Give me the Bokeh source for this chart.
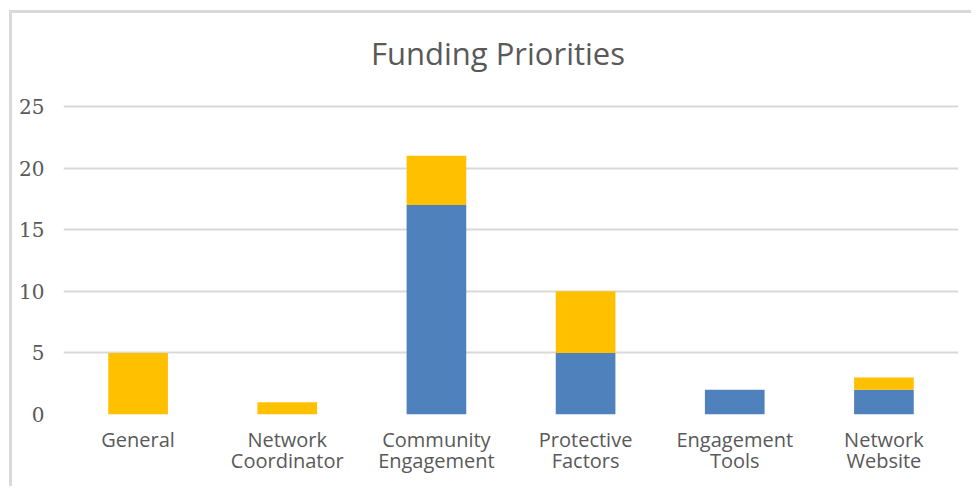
from bokeh.plotting import figure
from bokeh.models import ColumnDataSource, Range1d, FixedTicker, LinearAxis, Label
from bokeh.embed import file_html
from bokeh.resources import INLINE

title_text = "Funding Priorities"
categories = ["General", "Network Coordinator", "Community Engagement",
              "Protective Factors", "Engagement Tools", "Network Website"]
label_line1 = ["General", "Network", "Community", "Protective", "Engagement", "Network"]
label_line2 = ["", "Coordinator", "Engagement", "Factors", "Tools", "Website"]
y_ticks = [0, 5, 10, 15, 20, 25]
series_blue = [0, 0, 17, 5, 2, 2]
series_gold = [5, 1, 4, 5, 0, 1]
series_names = ["blue", "gold"]

xpos = list(range(len(categories)))
source = ColumnDataSource(dict(x=xpos, cat=categories, blue=series_blue, gold=series_gold))

# extra head-room above 25 inside the frame holds the title
p = figure(x_range=Range1d(-0.5, len(categories) - 0.5), y_range=Range1d(0, 31.17),
           width=962, height=476, output_backend="svg", toolbar_location=None,
           min_border_left=51, min_border_right=16, min_border_bottom=75, min_border_top=17)
p.styles = {"margin-left": "9px", "margin-top": "10px",
            "border-left": "3px solid #d9d9d9", "border-top": "3px solid #d9d9d9"}

p.vbar_stack(series_names, x="x", width=0.4, source=source,
             color=["#4F81BD", "#FFC000"], line_color=None)

title = Label(x=2.413, y=29.38, text=title_text,
              text_align="center", text_baseline="alphabetic",
              text_font="Open Sans", text_font_size="31px", text_color="#595959")
p.add_layout(title)

p.outline_line_color = None
p.xgrid.grid_line_color = None
p.ygrid.grid_line_color = "#d9d9d9"
p.ygrid.grid_line_width = 2
p.yaxis.ticker = FixedTicker(ticks=y_ticks)
p.yaxis.axis_line_color = None
p.yaxis.major_tick_line_color = None
p.yaxis.minor_tick_line_color = None
p.yaxis.major_tick_out = 0
p.yaxis.major_tick_in = 0
p.yaxis.major_label_text_font = "DejaVu Serif"
p.yaxis.major_label_text_font_size = "20px"
p.yaxis.major_label_text_color = "#595959"
p.yaxis.major_label_standoff = 19

ax1 = p.xaxis[0]
ax1.major_label_overrides = dict(zip(xpos, label_line1))
ax2 = LinearAxis()
ax2.major_label_overrides = dict(zip(xpos, label_line2))
p.add_layout(ax2, "below")
for ax in (ax1, ax2):
    ax.ticker = FixedTicker(ticks=xpos)
    ax.axis_line_color = None
    ax.major_tick_line_color = None
    ax.minor_tick_line_color = None
    ax.major_tick_out = 0
    ax.major_tick_in = 0
    ax.major_label_text_font = "Open Sans"
    ax.major_label_text_font_size = "20px"
    ax.major_label_text_color = "#595959"
ax1.major_label_standoff = 11
ax2.major_label_standoff = -9
p.background_fill_color = "white"

open("out.html", "w").write(file_html(p, INLINE))
